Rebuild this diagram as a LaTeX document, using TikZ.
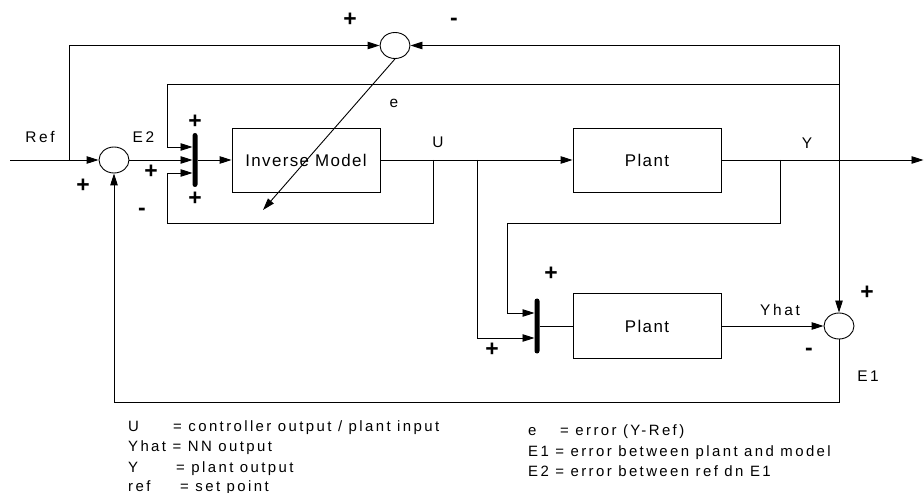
\documentclass[tikz,border=0pt]{standalone}
\usepackage{fontspec}
\setmainfont{Liberation Sans}
\newfontfamily\lblfont[LetterSpace=17]{Liberation Sans}
\newfontfamily\boxfont[LetterSpace=8]{Liberation Sans}
\newfontfamily\legfont[LetterSpace=16]{Liberation Sans}
\usetikzlibrary{arrows.meta,shapes.geometric}
\tikzset{
  wire/.style={line width=0.9bp, draw=black},
  arr/.style={wire, -{Triangle[length=12bp,width=7.5bp]}},
  sumnode/.style={ellipse, draw, line width=0.9bp, minimum width=30bp, minimum height=26bp, inner sep=0},
  blockbox/.style={rectangle, draw, line width=0.9bp, minimum width=148bp, minimum height=64bp, inner sep=0, font=\boxfont\fontsize{17}{19}\selectfont},
  barnode/.style={rectangle, fill=black, minimum width=5bp, minimum height=54bp, rounded corners=2.5bp, inner sep=0},
  lbl/.style={inner sep=0, font=\lblfont\fontsize{15.5}{17}\selectfont},
  sgn/.style={inner sep=0, font=\bfseries\fontsize{23}{25}\selectfont},
  leg/.style={inner sep=0, anchor=base west, font=\legfont\fontsize{15}{17}\selectfont},
}
\begin{document}
\begin{tikzpicture}[x=1bp,y=-1bp]
\useasboundingbox (0,0) rectangle (924,493);
% nodes
\node[sumnode] (sumL) at (114,160) {};
\node[sumnode] (sumT) at (395,45.5) {};
\node[sumnode] (sumE) at (839,326) {};
\node[barnode] (bar1) at (195,160) {};
\node[barnode, minimum height=55bp] (bar2) at (537,326) {};
\node[blockbox] (inv) at (306,160) {Inverse Model};
\node[blockbox] (plant1) at (647,160) {Plant};
\node[blockbox, minimum height=65bp] (plant2) at (647,326) {Plant};
% coordinates
\coordinate (in) at (10,160);
\coordinate (refs) at (69,160);
\coordinate (refup) at (69,45.5);
\coordinate (tr) at (839,45.5);
\coordinate (eR) at (839,84);
\coordinate (eL) at (167,147);
\coordinate (b1t) at (192.5,147);
\coordinate (b1m) at (192.5,160);
\coordinate (b1b) at (192.5,173);
\coordinate (u1) at (433,160);
\coordinate (u1d) at (433,223);
\coordinate (lpL) at (167,223);
\coordinate (lpU) at (167,173);
\coordinate (u2) at (477,160);
\coordinate (u2d) at (477,338);
\coordinate (b2b) at (534.5,338);
\coordinate (ys) at (780,160);
\coordinate (ysd) at (780,223);
\coordinate (ysl) at (507,223);
\coordinate (ysu) at (507,313);
\coordinate (b2t) at (534.5,313);
\coordinate (out) at (923.5,160);
\coordinate (e1d) at (839,402);
\coordinate (e1l) at (114,402);
\coordinate (diagEnd) at (263,210);
% connectors
\draw[arr] (in) -- (sumL.west);
\draw[arr] (refs) -- (refup) -- (sumT.west);
\draw[arr] (tr) -- (sumT.east);
\draw[arr] (tr) -- (sumE.north);
\draw[arr] (eR) -| (eL) -- (b1t);
\draw[arr] (sumL.east) -- (b1m);
\draw[arr] (u1) -- (u1d) -- (lpL) -- (lpU) -- (b1b);
\draw[arr] (bar1.east) -- (inv.west);
\draw[arr] (inv.east) -- (plant1.west);
\draw[arr] (plant1.east) -- (out);
\draw[arr] (ys) -- (ysd) -- (ysl) -- (ysu) -- (b2t);
\draw[arr] (u2) -- (u2d) -- (b2b);
\draw[wire] (bar2.east) -- (plant2.west);
\draw[arr] (plant2.east) -- (sumE.west);
\draw[arr] (sumE.south) -- (e1d) -- (e1l) -- (sumL.south);
\draw[arr] (sumT.south) -- (diagEnd);
% labels
\node[sgn] (pT) at (350,20) {+};
\node[sgn] (mT) at (454,22) {-};
\node[lbl] (lRef) at (40,137) {Ref};
\node[lbl] (lE2) at (143.5,137) {E2};
\node[sgn] (pL) at (83,186) {+};
\node[sgn] (pM) at (151,172) {+};
\node[sgn] (pB1t) at (195,122) {+};
\node[sgn] (pB1b) at (195,199) {+};
\node[sgn] (mL) at (142,212) {-};
\node[lbl] (le) at (394,103) {e};
\node[lbl] (lU) at (438,142) {U};
\node[lbl] (lY) at (807,143) {Y};
\node[sgn] (pB2t) at (551,274) {+};
\node[sgn] (pB2b) at (492,350) {+};
\node[lbl] (lYhat) at (780,309.5) {Yhat};
\node[sgn] (pE) at (867,293) {+};
\node[sgn] (mE) at (809,352) {-};
\node[lbl] (lE1) at (868,376) {E1};
% legend
\node[leg] (g1) at (128,431) {\makebox[45bp][l]{U}= controller output / plant input};
\node[leg] (g2) at (128,451.5) {Yhat = NN output};
\node[leg] (g3) at (128,472) {\makebox[48bp][l]{Y}= plant output};
\node[leg] (g4) at (128,491) {\makebox[52bp][l]{ref}= set point};
\node[leg] (h1) at (528,435) {\makebox[32bp][l]{e}= error (Y-Ref)};
\node[leg] (h2) at (528,456) {E1 = error between plant and model};
\node[leg] (h3) at (528,476) {E2 = error between ref dn E1};
\end{tikzpicture}
\end{document}
